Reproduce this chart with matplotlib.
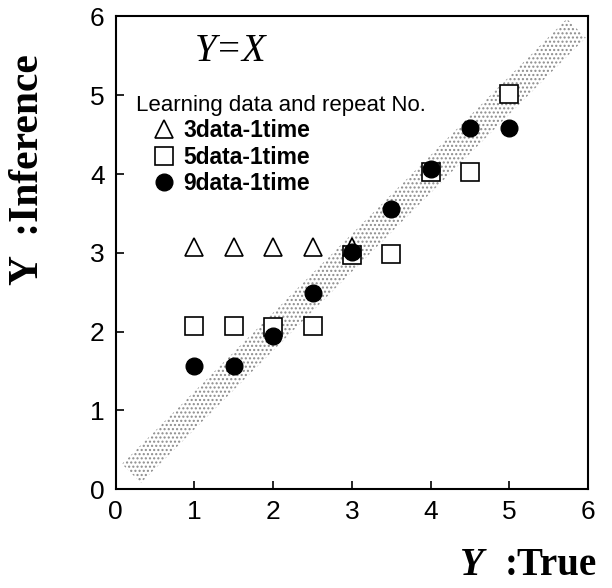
import matplotlib
matplotlib.use("Agg")
import matplotlib.pyplot as plt
from matplotlib.patches import Polygon

# learning results, Y true vs Y inference
x_true = [1, 1.5, 2, 2.5, 3, 3.5, 4, 4.5, 5]
y_3data = [3.07, 3.07, 3.07, 3.07, 3.07]
y_5data = [2.07, 2.07, 2.06, 2.07, 2.97, 2.99, 4.02, 4.03, 5.02]
y_9data = [1.57, 1.57, 1.95, 2.49, 3.01, 3.56, 4.07, 4.58, 4.58]
labels = ["3data-1time", "5data-1time", "9data-1time"]

# y = x band
band_start, band_end, band_half = 0.2, 5.85, 0.12

plt.rcParams["font.family"] = "Liberation Sans"

fig = plt.figure(figsize=(6.12, 5.88), dpi=100)
ax = fig.add_axes([0.189, 0.168, 0.772, 0.804])

b0, b1, h = band_start, band_end, band_half
band = Polygon([(b0 + h, b0 - h), (b1 + h, b1 - h), (b1 - h, b1 + h), (b0 - h, b0 + h)],
               closed=True, facecolor="white", edgecolor="0.55", lw=0, hatch="....", zorder=1)
ax.add_patch(band)

ax.plot(x_true[:len(y_3data)], y_3data, ls="none", marker="^", ms=13, mfc="white",
        mec="black", mew=1.2, label=labels[0], zorder=3)
ax.plot(x_true, y_5data, ls="none", marker="s", ms=13, mfc="white",
        mec="black", mew=1.2, label=labels[1], zorder=2)
ax.plot(x_true, y_9data, ls="none", marker="o", ms=12, mfc="black",
        mec="black", label=labels[2], zorder=4)

ax.set_xlim(0, 6)
ax.set_ylim(0, 6)
ax.set_xticks(range(7))
ax.set_yticks(range(7))
ax.tick_params(direction="in", length=6, width=1.2, labelsize=19, pad=8)
for s in ax.spines.values():
    s.set_linewidth(1.5)

ax.text(1.0, 5.55, "Y=X", fontsize=28, family="Liberation Serif", style="italic", va="center")

leg = ax.legend(loc="upper left", bbox_to_anchor=(0.01, 0.868), frameon=False,
                title="Learning data and repeat No.", alignment="left",
                prop={"size": 16.5, "weight": "bold"}, title_fontsize=16,
                handletextpad=-0.35, labelspacing=0.15, handlelength=2.4, borderpad=0.2)

fig.text(0.046, 0.711, "Y  :Inference", fontsize=30, family="Liberation Serif",
         fontweight="bold", rotation=90, ha="center", va="center")
fig.text(0.752, 0.038, "Y", fontsize=28, family="Liberation Serif", style="italic",
         fontweight="bold", va="center")
fig.text(0.825, 0.038, ":True", fontsize=28, family="Liberation Serif",
         fontweight="bold", va="center")

fig.savefig("out.png", dpi=100)
